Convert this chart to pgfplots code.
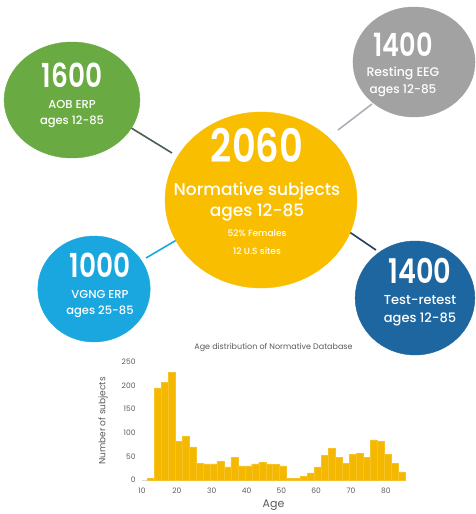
\documentclass[border=0pt]{standalone}
\usepackage{fontspec}
\setmainfont{Poppins}
\newfontfamily\numfont[FakeStretch=0.8]{Poppins SemiBold}
\newfontfamily\labfont{Poppins Medium}
\usepackage{pgfplots}
\pgfplotsset{compat=1.18}
\definecolor{cgreen}{RGB}{106,170,66}
\definecolor{cgray}{RGB}{162,162,162}
\definecolor{cyel}{RGB}{249,190,0}
\definecolor{cbar}{RGB}{245,184,0}
\definecolor{clblue}{RGB}{26,167,224}
\definecolor{cdblue}{RGB}{30,102,160}
\definecolor{lgreen}{RGB}{70,95,80}
\definecolor{lgray}{RGB}{170,175,185}
\definecolor{lnavy}{RGB}{35,60,100}
\definecolor{txtgray}{RGB}{90,90,90}
\pgfplotstableread{
x y
11.5 4
13.5 195
15.5 207
17.5 228
19.5 82
21.5 92
23.5 70
25.5 35
27.5 34
29.5 34
31.5 40
33.5 28
35.5 48
37.5 30
39.5 30
41.5 34
43.5 37
45.5 34
47.5 33
49.5 30
51.5 4
53.5 4
55.5 8
57.5 15
59.5 28
61.5 52
63.5 67
65.5 48
67.5 35
69.5 54
71.5 56
73.5 48
75.5 85
77.5 82
79.5 55
81.5 35
83.5 17
85.5 17
}\agedata
\pgfplotsset{bgaxis/.style={at={(0,0)}, anchor=south west, width=476pt, height=514pt,
  scale only axis, xmin=0, xmax=476, ymin=0, ymax=514, y dir=reverse,
  axis lines=none, clip=false}}
\begin{document}
\begin{tikzpicture}
\useasboundingbox (0,0) rectangle (476pt,514pt);
\begin{axis}[bgaxis]
\addplot[draw=lgreen, line width=1.6pt] coordinates {(128,126) (172,153)};
\addplot[draw=lgray, line width=1.6pt] coordinates {(338,130) (372,104)};
\addplot[draw=clblue, line width=1.6pt] coordinates {(146,258) (180,238)};
\addplot[draw=lnavy, line width=1.6pt] coordinates {(345,229) (376,250)};
\addplot[only marks, mark=*, mark size=58pt, color=cgreen, mark options={draw=none, xscale=1.17}] coordinates {(72,100)};
\addplot[only marks, mark=*, mark size=55pt, color=cgray, mark options={draw=none, xscale=1.11}] coordinates {(414,62)};
\addplot[only marks, mark=*, mark size=88pt, color=cyel, mark options={draw=none, xscale=1.09}] coordinates {(261,200)};
\addplot[only marks, mark=*, mark size=53pt, color=clblue, mark options={draw=none, xscale=1.06}] coordinates {(94,289)};
\addplot[only marks, mark=*, mark size=57pt, color=cdblue, mark options={draw=none, xscale=1.05}] coordinates {(415,298)};
\end{axis}
\begin{axis}[bgaxis]
\begin{scope}[every node/.style={text=white, inner sep=0pt, align=center, text depth=0pt}]
\node[font=\numfont\fontsize{33}{33}\selectfont, text height=23pt] at (axis cs:72,76) {1600};
\node[font=\labfont\fontsize{11.5}{12}\selectfont] at (axis cs:72,104) {AOB ERP};
\node[font=\labfont\fontsize{11.5}{12}\selectfont] at (axis cs:72,120) {ages 12-85};
\node[font=\numfont\fontsize{32}{32}\selectfont, text height=22pt] at (axis cs:403,46) {1400};
\node[font=\labfont\fontsize{12.5}{12.5}\selectfont] at (axis cs:403,72) {Resting EEG};
\node[font=\labfont\fontsize{12}{12}\selectfont] at (axis cs:403,89) {ages 12-85};
\node[font=\numfont\fontsize{46}{46}\selectfont, text height=32pt] at (axis cs:257,147) {2060};
\node[font=\labfont\fontsize{17}{17}\selectfont] at (axis cs:257,189) {Normative subjects};
\node[font=\labfont\fontsize{17}{17}\selectfont] at (axis cs:257,210) {ages 12-85};
\node[font=\labfont\fontsize{9}{9}\selectfont] at (axis cs:257,233) {52\% Females};
\node[font=\labfont\fontsize{9}{9}\selectfont] at (axis cs:257,251) {12 U.S sites};
\node[font=\numfont\fontsize{33}{33}\selectfont, text height=23pt] at (axis cs:100,266) {1000};
\node[font=\labfont\fontsize{11.5}{12}\selectfont] at (axis cs:100,294) {VGNG ERP};
\node[font=\labfont\fontsize{11.5}{12}\selectfont] at (axis cs:100,310) {ages 25-85};
\node[font=\numfont\fontsize{34}{34}\selectfont, text height=24pt] at (axis cs:420,271) {1400};
\node[font=\labfont\fontsize{13}{13}\selectfont] at (axis cs:420,300) {Test-retest};
\node[font=\labfont\fontsize{13}{13}\selectfont] at (axis cs:420,318) {ages 12-85};
\end{scope}
\end{axis}
\begin{axis}[at={(142pt,34pt)}, anchor=south west, width=263pt, height=118pt,
  scale only axis, xmin=10, xmax=85.5, ymin=0, ymax=250,
  xtick={10,20,...,80}, ytick={0,50,...,250},
  minor xtick={11.5,13.5,...,85.5},
  axis lines=left, axis line style={-},
  y axis line style={draw=none},
  x axis line style={draw=black!15},
  major tick length=0pt, minor tick length=2pt,
  every tick/.style={draw=black!25, line width=0.3pt},
  tick label style={font=\fontsize{7.5}{8}\selectfont, text=txtgray},
  /pgf/number format/assume math mode=true,
  xticklabel style={yshift=-4pt},
  yticklabel style={xshift=-3pt},
  title={Age distribution of Normative Database},
  title style={font=\fontsize{8}{9}\selectfont, text=txtgray, at={(axis description cs:0.5,1.068)}, anchor=center},
  xlabel={Age}, xlabel style={font=\fontsize{11}{12}\selectfont, text=txtgray, at={(axis description cs:0.5,-0.212)}, anchor=center},
  ylabel={Number of subjects}, ylabel style={font=\fontsize{9}{10}\selectfont, text=txtgray, at={(axis description cs:-0.148,0.5)}, anchor=center},
  clip=false]
\addplot[ybar interval, fill=cbar, draw=cbar!85!white, line width=0.3pt] table[x=x, y=y] {\agedata};
\end{axis}
\end{tikzpicture}
\end{document}
